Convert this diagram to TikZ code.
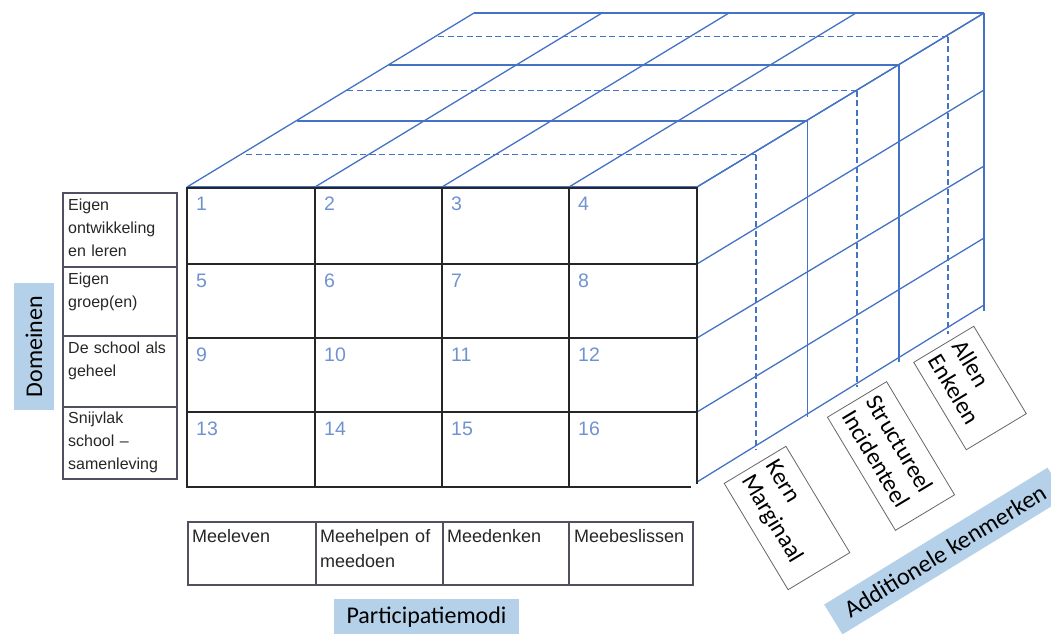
\documentclass[tikz,border=0pt]{standalone}
\usepackage{fontspec}
\newfontfamily\helv{Liberation Sans}
\newfontfamily\calib{Carlito}
\definecolor{cubeblue}{HTML}{4472C4}
\definecolor{numblue}{HTML}{7092D0}
\definecolor{labelblue}{HTML}{B5D1E9}
\definecolor{tabline}{HTML}{505060}
\definecolor{txtgray}{HTML}{262626}
\begin{document}
\begin{tikzpicture}[x=1pt,y=-1pt,
  blueline/.style={draw=cubeblue, line width=1.3pt},
  bluedash/.style={draw=cubeblue, line width=1.6pt, dash pattern=on 6pt off 3.5pt},
  gridline/.style={draw=txtgray, line width=1.2pt},
  tabstyle/.style={draw=tabline, line width=1.8pt},
  numlabel/.style={anchor=north west, inner sep=0pt, font=\helv\fontsize{19.5}{19.5}\selectfont, text=numblue},
  domtext/.style={anchor=north west, inner sep=0pt, align=left, text width=108pt, font=\helv\fontsize{16}{23}\selectfont, text=txtgray},
  modtext/.style={anchor=north west, inner sep=0pt, align=left, text width=122pt, font=\helv\fontsize{18}{25}\selectfont, text=txtgray},
  catlabel/.style={fill=labelblue, font=\calib\fontsize{24}{28}\selectfont, inner sep=0pt, text=black},
  kenbox/.style={draw=gray!80!black, line width=0.8pt, fill=white, font=\calib\fontsize{24}{28}\selectfont, rotate=-59, align=left, inner sep=6pt, anchor=center}
]
\useasboundingbox (0,0) rectangle (1051,633);

% ---------- top face of cube ----------
\foreach \c in {187,315,442,569,697}
  \draw[blueline] (\c,187) -- ({\c+287},13);
% depth layers: x offset / y / style
\foreach \dx/\y/\s in {59/154.5/bluedash,110/121/blueline,160/90.5/bluedash,202/65/blueline,251/36.5/bluedash,287/13/blueline}
  \draw[\s] ({187+\dx},\y) -- ({697+\dx},\y);
\draw[blueline] (187,187) -- (697,187);

% ---------- right face of cube ----------
\foreach \r/\b in {187/13,264/90,338/166,412/238,482/305}
  \draw[blueline] (697,\r) -- (984,\b);
\foreach \dx/\y/\s in {59/154.5/bluedash,160/90.5/bluedash,202/65/blueline,251/36.5/bluedash,287/13/blueline}
  \draw[\s] ({697+\dx},\y) -- ({697+\dx},{\y+295+(\dx/287)*3});
\draw[blueline, line width=0.8pt] (807,121) -- (807,417);

% ---------- front grid ----------
\foreach \y in {264,338,412}
  \draw[gridline] (187,\y) -- (697,\y);
\foreach \x in {315,442,569}
  \draw[gridline] (\x,187) -- (\x,487);
\draw[gridline] (187,188) -- (697,188) -- (697,484);
\draw[gridline, line width=1.6pt] (187,187) -- (187,487);
\draw[draw=txtgray, line width=2.6pt] (186,487) -- (691,487);

% cell numbers
\foreach \n [count=\i from 0] in {1,...,16} {
  \pgfmathtruncatemacro{\col}{mod(\i,4)}
  \pgfmathtruncatemacro{\row}{div(\i,4)}
  \pgfmathsetmacro{\cx}{{187,315,442,569}[\col]}
  \pgfmathsetmacro{\cy}{{187,264,338,412}[\row]}
  \node[numlabel] (num\n) at ({\cx+9},{\cy+10}) {\n};
}

% ---------- Domeinen table ----------
\draw[tabstyle] (63,193) rectangle (177,479);
\foreach \y in {267,336,407}
  \draw[tabstyle, line width=1.4pt] (63,\y) -- (177,\y);
\node[domtext] (d1) at (68,199) {Eigen\\ontwikkeling\\en leren};
\node[domtext] (d2) at (68,273) {Eigen\\groep(en)};
\node[domtext] (d3) at (68,342) {De school als\\geheel};
\node[domtext] (d4) at (68,412) {Snijvlak\\school –\\samenleving};

\node[catlabel, minimum width=127pt, minimum height=40pt, rotate=90] (domeinen) at (34,346.5) {Domeinen};

% ---------- Participatiemodi table ----------
\draw[tabstyle] (188,522) rectangle (693,585);
\foreach \x in {316,443,569}
  \draw[tabstyle, line width=1.4pt] (\x,522) -- (\x,585);
\node[modtext] (m1) at (192,529) {Meeleven};
\node[modtext] (m2) at (320,529) {Meehelpen of\\meedoen};
\node[modtext] (m3) at (447,529) {Meedenken};
\node[modtext] (m4) at (574,529) {Meebeslissen};

\node[catlabel, minimum width=185pt, minimum height=36pt] (partmodi) at (426.5,617) {Participatiemodi};

% ---------- additional characteristics ----------
\node[kenbox, minimum width=124pt, minimum height=72pt, text width=112pt] (kern) at (787,518) {Kern\\Marginaal};
\node[kenbox, minimum width=132pt, minimum height=69pt, text width=120pt] (struct) at (891,456) {Structureel\\Incidenteel};
\node[kenbox, minimum width=102pt, minimum height=70pt, text width=90pt] (allen) at (970,388) {Allen\\Enkelen};

\node[catlabel, minimum width=262pt, minimum height=35pt, rotate=31.5, font=\calib\fontsize{24.5}{28}\selectfont] (addit) at (945,551) {Additionele kenmerken};
\end{tikzpicture}
\end{document}
